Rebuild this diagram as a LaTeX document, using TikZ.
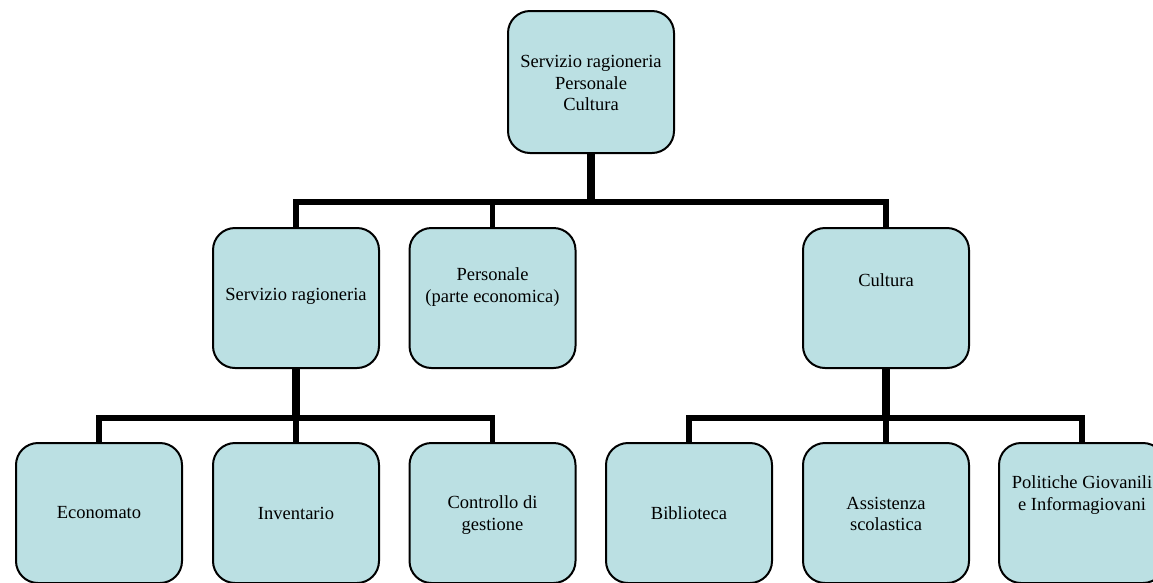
\documentclass[tikz,border=0pt]{standalone}
\usepackage{fontspec}
\setmainfont{Liberation Serif}
\definecolor{boxfill}{RGB}{187,224,227}
\begin{document}
\begin{tikzpicture}[x=1pt,y=-1pt,
  box/.style={draw=black, line width=2pt, fill=boxfill, rounded corners=22pt,
    minimum width=166pt, inner sep=0pt},
  boxtop/.style={box, minimum height=142pt},
  boxrow/.style={box, minimum height=140pt},
  lbl/.style={align=center, font=\fontsize{18.5}{21.5}\selectfont, text=black, inner sep=0pt},
  stem/.style={line width=7.5pt},
  bar/.style={line width=5.7pt, line join=miter}]
\useasboundingbox (0,0) rectangle (1153,582);
\clip (0,0) rectangle (1153,582);

% boxes
\node[boxtop] (top) at (591,82) {};
\node[boxrow] (serv) at (296,298) {};
\node[boxrow] (pers) at (492.5,298) {};
\node[boxrow] (cult) at (886,298) {};
\node[boxrow] (econ) at (99,513) {};
\node[boxrow] (inv) at (296,513) {};
\node[boxrow] (contr) at (492.5,513) {};
\node[boxrow] (bibl) at (689,513) {};
\node[boxrow] (assi) at (886,513) {};
\node[boxrow] (poli) at (1082,513) {};

% labels
\node[lbl] (top-t) at (591,83) {Servizio ragioneria\\Personale\\Cultura};
\node[lbl] (serv-t) at (296,296) {Servizio ragioneria};
\node[lbl] (pers-t) at (492.5,287) {Personale\\(parte economica)};
\node[lbl] (cult-t) at (886,280) {Cultura};
\node[lbl] (econ-t) at (99,513) {Economato};
\node[lbl] (inv-t) at (296,513) {Inventario};
\node[lbl] (contr-t) at (492.5,515) {Controllo di\\gestione};
\node[lbl] (bibl-t) at (689,513) {Biblioteca};
\node[lbl] (assi-t) at (886,514) {Assistenza\\scolastica};
\node[lbl] (poli-t) at (1082,495) {Politiche Giovanili\\e Informagiovani};

% connector junctions
\coordinate (b1) at (591,202);
\coordinate (b2) at (296,418);
\coordinate (b3) at (886,418);

% level 1
\draw[stem] (top.south) -- (b1);
\draw[bar] (serv.north) |- (b1) -| (cult.north);
\draw[bar] (pers.north) -- (pers.north |- b1);

% level 2 left
\draw[stem] (serv.south) -- (b2);
\draw[bar] (econ.north) |- (b2) -| (contr.north);
\draw[bar] (inv.north) -- (b2);

% level 2 right
\draw[stem] (cult.south) -- (b3);
\draw[bar] (bibl.north) |- (b3) -| (poli.north);
\draw[bar] (assi.north) -- (b3);
\end{tikzpicture}
\end{document}
